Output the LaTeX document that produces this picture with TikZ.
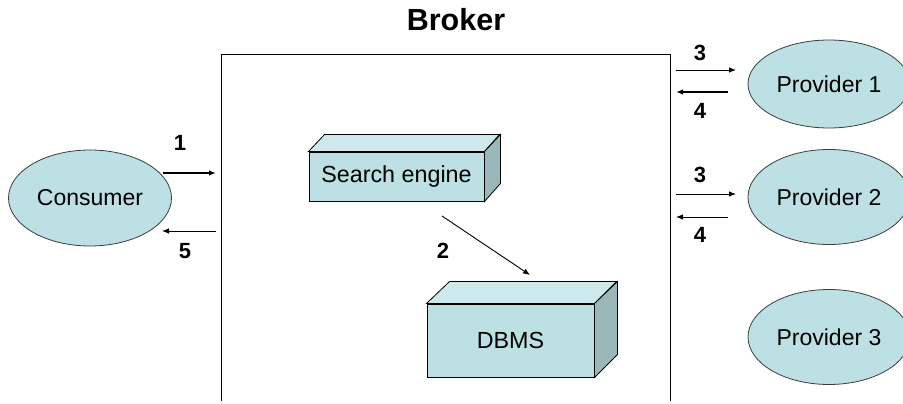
\documentclass[tikz,border=0pt]{standalone}
\usepackage{fontspec}
\setmainfont{Liberation Sans}
\usetikzlibrary{arrows.meta}
\definecolor{cfill}{RGB}{188,224,227}
\definecolor{ctop}{RGB}{206,233,235}
\definecolor{cside}{RGB}{154,183,185}
\definecolor{cline}{RGB}{60,60,60}
\tikzset{
  lbl/.style={font=\fontsize{23}{25}\selectfont},
  num/.style={font=\fontsize{22}{24}\selectfont\bfseries, inner sep=0pt},
  oval/.style={ellipse, draw=cline, line width=0.8pt, fill=cfill, inner sep=0pt, font=\fontsize{23}{25}\selectfont},
  front/.style={draw=black, line width=1pt, fill=cfill, inner sep=0pt, font=\fontsize{23.3}{25}\selectfont},
  topface/.style={draw=black, line width=0.8pt, fill=ctop},
  sideface/.style={draw=black, line width=0.8pt, fill=cside},
  arr/.style={line width=1.4pt, -{Latex[length=7pt,width=5.5pt]}},
  thinarr/.style={line width=0.9pt, -{Latex[length=7pt,width=5.5pt]}},
}
\usetikzlibrary{shapes.geometric}
\begin{document}
\begin{tikzpicture}[x=1pt,y=-1pt]
\useasboundingbox (0,0) rectangle (903,404);

% title
\node[font=\fontsize{30.5}{32}\selectfont\bfseries] (title) at (456,20) {Broker};

% broker frame (open at bottom)
\node[minimum width=448pt, minimum height=346pt, inner sep=0pt] (broker) at (446,228) {};
\draw[line width=1.2pt] (broker.south west) -- (broker.north west) -- (broker.north east) -- (broker.south east);

% consumer
\node[oval, minimum width=163pt, minimum height=96pt] (consumer) at (90,198) {Consumer};

% providers
\node[oval, minimum width=162pt, minimum height=88pt] (p1) at (829,84) {Provider 1};
\node[oval, minimum width=162pt, minimum height=95pt] (p2) at (829,197) {Provider 2};
\node[oval, minimum width=162pt, minimum height=95pt] (p3) at (829,337) {Provider 3};

% search engine box
\node[front, minimum width=175pt, minimum height=49pt] (search) at (396.5,176.5) {Search engine};
\draw[topface] (search.north west) -- ++(16,-17) -- ++(175,0) -- (search.north east) -- cycle;
\draw[sideface] (search.north east) -- ++(16,-17) -- ++(0,49) -- (search.south east) -- cycle;

% DBMS box
\node[front, minimum width=167pt, minimum height=73pt] (dbms) at (510.5,340.5) {DBMS};
\draw[topface] (dbms.north west) -- ++(23,-22) -- ++(167,0) -- (dbms.north east) -- cycle;
\draw[sideface] (dbms.north east) -- ++(23,-22) -- ++(0,73) -- (dbms.south east) -- cycle;

% connector end points
\coordinate (a1s) at (163,173);  \coordinate (a1e) at (216,173);
\coordinate (a5s) at (216,231);  \coordinate (a5e) at (162,231);
\coordinate (a2s) at (442,216);  \coordinate (a2e) at (530,275);
\coordinate (b3s) at (676,70);   \coordinate (b3e) at (736,70);
\coordinate (b4s) at (728,92);   \coordinate (b4e) at (676,92);
\coordinate (c3s) at (676,194);  \coordinate (c3e) at (736,194);
\coordinate (c4s) at (728,217);  \coordinate (c4e) at (676,217);

\draw[arr] (a1s) -- (a1e);
\draw[thinarr] (a5s) -- (a5e);
\draw[thinarr] (a2s) -- (a2e);
\draw[thinarr] (b3s) -- (b3e);
\draw[arr] (b4s) -- (b4e);
\draw[thinarr] (c3s) -- (c3e);
\draw[thinarr] (c4s) -- (c4e);

% labels
\node[num] (n1) at (180,143) {1};
\node[num] (n5) at (185,251) {5};
\node[num] (n2) at (443,251) {2};
\node[num] (n3a) at (700,53) {3};
\node[num] (n4a) at (700,111) {4};
\node[num] (n3b) at (700,175) {3};
\node[num] (n4b) at (700,235) {4};
\end{tikzpicture}
\end{document}
